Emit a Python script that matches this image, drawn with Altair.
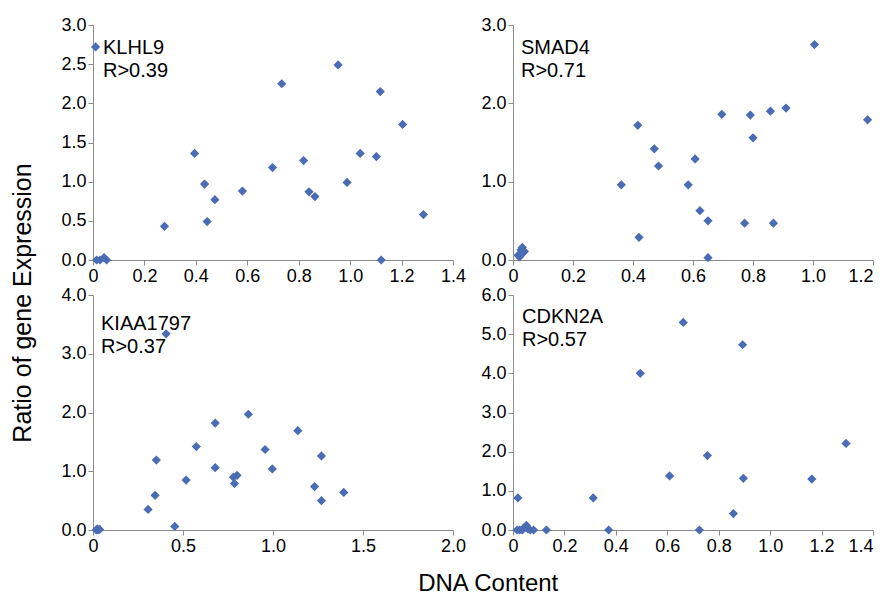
import altair as alt
import pandas as pd

# ---- data ----
klhl9_x = [0.010, 0.014, 0.027, 0.043, 0.053, 0.278, 0.395, 0.434, 0.444, 0.474, 0.581, 0.698,
           0.734, 0.819, 0.840, 0.863, 0.953, 0.988, 1.039, 1.102, 1.117, 1.121, 1.204, 1.285]
klhl9_y = [2.72, 0.00, 0.00, 0.03, 0.00, 0.43, 1.36, 0.97, 0.49, 0.77, 0.88, 1.18,
           2.25, 1.27, 0.87, 0.81, 2.49, 0.99, 1.36, 1.32, 2.15, 0.00, 1.73, 0.58]

smad4_x = [0.017, 0.022, 0.027, 0.031, 0.033, 0.038, 0.025, 0.361, 0.416, 0.420, 0.471, 0.485,
           0.584, 0.607, 0.623, 0.650, 0.650, 0.696, 0.772, 0.791, 0.800, 0.858, 0.868, 0.910,
           1.005, 1.182]
smad4_y = [0.06, 0.04, 0.13, 0.16, 0.09, 0.11, 0.08, 0.96, 1.72, 0.29, 1.42, 1.20,
           0.96, 1.29, 0.63, 0.50, 0.03, 1.86, 0.47, 1.85, 1.56, 1.90, 0.47, 1.94,
           2.75, 1.79]

kiaa_x = [0.018, 0.028, 0.037, 0.024, 0.306, 0.345, 0.352, 0.406, 0.454, 0.517, 0.574, 0.679,
          0.679, 0.780, 0.786, 0.800, 0.863, 0.956, 0.996, 1.138, 1.231, 1.269, 1.269, 1.393]
kiaa_y = [0.00, 0.00, 0.01, 0.02, 0.35, 0.59, 1.19, 3.34, 0.06, 0.85, 1.42, 1.82,
          1.06, 0.90, 0.79, 0.93, 1.97, 1.37, 1.04, 1.69, 0.74, 1.26, 0.50, 0.64]

cdkn_x = [0.016, 0.026, 0.036, 0.045, 0.052, 0.058, 0.067, 0.080, 0.039, 0.019, 0.130, 0.312,
          0.372, 0.495, 0.609, 0.662, 0.725, 0.756, 0.857, 0.893, 0.896, 1.162, 1.295]
cdkn_y = [0.00, 0.00, 0.00, 0.06, 0.12, 0.03, 0.00, 0.00, 0.03, 0.82, 0.00, 0.82,
          0.00, 4.00, 1.38, 5.30, 0.00, 1.90, 0.42, 4.73, 1.32, 1.30, 2.21]

genes = ["KLHL9", "SMAD4", "KIAA1797", "CDKN2A"]
r_labels = ["R>0.39", "R>0.71", "R>0.37", "R>0.57"]

x_ticks = [[0, 0.2, 0.4, 0.6, 0.8, 1.0, 1.2, 1.4],
           [0, 0.2, 0.4, 0.6, 0.8, 1.0, 1.2],
           [0, 0.5, 1.0, 1.5, 2.0],
           [0, 0.2, 0.4, 0.6, 0.8, 1.0, 1.2, 1.4]]
y_ticks = [[0, 0.5, 1.0, 1.5, 2.0, 2.5, 3.0],
           [0, 1.0, 2.0, 3.0],
           [0, 1.0, 2.0, 3.0, 4.0],
           [0, 1.0, 2.0, 3.0, 4.0, 5.0, 6.0]]

FONT = "Liberation Sans"
BLUE = "#4a6cb4"
AXIS_GRAY = "#8c8c8c"
W, H = 360, 235


def panel(xs, ys, xt, yt, gene, rlab, tx, ty, last_right=False):
    df = pd.DataFrame({"x": xs, "y": ys})
    align = {"expr": f"datum.value >= {xt[-1]} ? 'right' : 'center'"} if last_right else "center"
    xaxis = alt.Axis(values=xt, labelExpr="datum.value == 0 ? '0' : format(datum.value, '.1f')",
                     labelAlign=align)
    yaxis = alt.Axis(values=yt, format=".1f")
    pts = alt.Chart(df).mark_point(shape="diamond", filled=True, size=85, color=BLUE, opacity=1).encode(
        x=alt.X("x:Q", scale=alt.Scale(domain=[0, xt[-1]], nice=False), axis=xaxis, title=None),
        y=alt.Y("y:Q", scale=alt.Scale(domain=[0, yt[-1]], nice=False), axis=yaxis, title=None),
    )
    lab = alt.Chart(pd.DataFrame({"t": [gene + "\n" + rlab]})).mark_text(
        align="left", baseline="alphabetic", font=FONT, fontSize=20, color="#000",
        lineBreak="\n", lineHeight=23
    ).encode(text="t:N", x=alt.value(tx), y=alt.value(ty))
    return (pts + lab).properties(width=W, height=H)


p1 = panel(klhl9_x, klhl9_y, x_ticks[0], y_ticks[0], genes[0], r_labels[0], 10, 29)
p2 = panel(smad4_x, smad4_y, x_ticks[1], y_ticks[1], genes[1], r_labels[1], 8, 29, last_right=True)
p3 = panel(kiaa_x, kiaa_y, x_ticks[2], y_ticks[2], genes[2], r_labels[2], 8, 35)
p4 = panel(cdkn_x, cdkn_y, x_ticks[3], y_ticks[3], genes[3], r_labels[3], 9, 28, last_right=True)

row1 = alt.hconcat(p1, p2, spacing=60, bounds="flush")
row2 = alt.hconcat(p3, p4, spacing=60, bounds="flush")
grid = alt.vconcat(row1, row2, spacing=1,
                   title=alt.Title("DNA Content", orient="bottom", anchor="middle",
                                   font=FONT, fontSize=24, fontWeight="normal", color="#000",
                                   offset=17, dx=21))

chart = alt.hconcat(grid).properties(
    title=alt.Title("Ratio of gene Expression", orient="left", anchor="middle",
                    font=FONT, fontSize=25, fontWeight="normal", color="#000", offset=25, dx=3),
    padding={"left": 2, "top": 8, "right": 0, "bottom": 0},
).configure_view(strokeWidth=0).configure_axis(
    grid=False, domainColor=AXIS_GRAY, tickColor=AXIS_GRAY, tickSize=5,
    labelFont=FONT, labelFontSize=18, labelColor="#000", labelPadding=2,
    domainWidth=1, tickWidth=1
)

chart.save("out.html", embed_options={"renderer": "svg", "actions": False})
